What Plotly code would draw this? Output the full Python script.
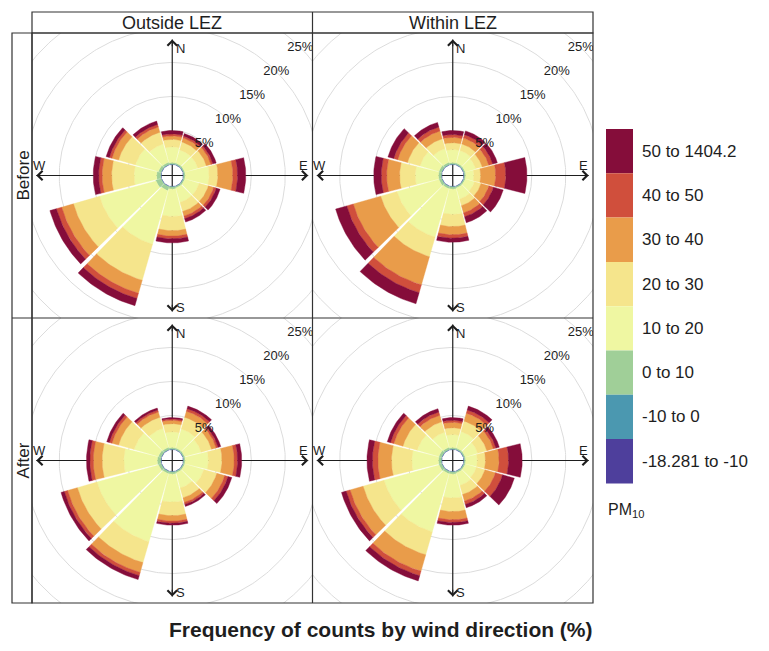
import numpy as np
import plotly.graph_objects as go

# ---------------- data ----------------
directions = [0, 30, 60, 90, 120, 150, 180, 210, 240, 270, 300, 330]
band_labels = ["-18.281 to -10", "-10 to 0", "0 to 10", "10 to 20",
               "20 to 30", "30 to 40", "40 to 50", "50 to 1404.2"]
band_colors = ["#4e3f9c", "#4b98b0", "#a0cf98", "#eff7a2",
               "#f5e58c", "#e99c4a", "#d04f3c", "#850d3a"]
col_titles = ["Outside LEZ", "Within LEZ"]
row_titles = ["Before", "After"]
grid_pct = [5, 10, 15, 20, 25]
legend_title = "PM<sub>10</sub>"
x_title = "Frequency of counts by wind direction (%)"

# frequency (%) per band (rows, low -> high) and direction (columns)
outside_before = [
    [0.02] * 12,
    [0.08] * 12,
    [0.2, 0.2, 0.2, 0.2, 0.2, 0.2, 0.3, 0.6, 0.8, 0.6, 0.4, 0.3],
    [2.3, 2.0, 2.0, 3.5, 2.2, 2.2, 4.0, 8.2, 8.6, 3.3, 3.5, 2.8],
    [1.1, 1.2, 1.3, 1.3, 1.4, 1.4, 2.1, 5.5, 4.0, 3.3, 2.6, 1.8],
    [0.5, 0.6, 0.7, 2.2, 0.8, 0.7, 0.8, 2.0, 1.8, 1.4, 1.0, 0.8],
    [0.3, 0.3, 0.3, 0.7, 0.4, 0.4, 0.4, 0.8, 0.8, 0.5, 0.4, 0.4],
    [0.5, 0.4, 0.5, 1.2, 0.6, 0.5, 0.6, 1.1, 1.0, 0.8, 0.5, 0.5],
]
within_before = [
    [0.02] * 12,
    [0.08] * 12,
    [0.2, 0.2, 0.2, 0.2, 0.2, 0.2, 0.3, 0.3, 0.4, 0.4, 0.4, 0.3],
    [1.9, 1.9, 1.6, 1.2, 1.4, 1.7, 3.7, 7.4, 6.4, 3.4, 2.9, 2.1],
    [1.0, 1.0, 1.0, 1.0, 1.0, 1.0, 1.8, 3.0, 2.5, 2.3, 1.9, 1.5],
    [0.8, 0.9, 1.0, 2.2, 1.2, 1.1, 1.2, 4.3, 4.2, 1.9, 1.5, 1.2],
    [0.4, 0.5, 0.6, 1.5, 0.7, 0.6, 0.5, 1.2, 1.0, 0.8, 0.6, 0.6],
    [0.6, 0.6, 0.7, 3.1, 1.5, 0.9, 0.6, 1.7, 1.7, 1.1, 0.9, 0.7],
]
outside_after = [
    [0.02] * 12,
    [0.08] * 12,
    [0.2, 0.2, 0.2, 0.2, 0.2, 0.2, 0.3, 0.3, 0.4, 0.5, 0.4, 0.3],
    [2.3, 2.9, 2.5, 3.4, 2.9, 2.3, 4.1, 10.4, 9.4, 4.9, 3.7, 2.9],
    [1.2, 1.8, 1.6, 2.0, 2.0, 1.5, 2.0, 3.2, 3.0, 3.2, 2.4, 1.7],
    [0.5, 0.9, 0.7, 1.8, 1.2, 0.7, 0.8, 1.5, 1.5, 1.3, 1.0, 0.8],
    [0.2, 0.4, 0.3, 0.5, 0.5, 0.3, 0.3, 0.5, 0.5, 0.5, 0.4, 0.3],
    [0.2, 0.4, 0.4, 0.6, 0.6, 0.3, 0.3, 0.6, 0.5, 0.5, 0.4, 0.3],
]
within_after = [
    [0.02] * 12,
    [0.08] * 12,
    [0.2, 0.2, 0.2, 0.2, 0.2, 0.2, 0.3, 0.3, 0.4, 0.4, 0.4, 0.3],
    [1.9, 2.5, 1.9, 1.7, 1.7, 1.9, 3.5, 8.9, 8.4, 3.9, 3.3, 2.3],
    [1.0, 1.6, 1.4, 1.2, 1.3, 1.4, 2.0, 3.5, 3.2, 3.0, 2.2, 1.6],
    [0.8, 1.2, 1.0, 2.0, 1.6, 1.0, 1.2, 2.5, 2.0, 2.0, 1.4, 1.0],
    [0.3, 0.5, 0.4, 1.4, 1.1, 0.5, 0.4, 0.7, 0.6, 0.8, 0.5, 0.5],
    [0.4, 0.6, 0.5, 2.0, 1.8, 0.5, 0.4, 0.8, 0.7, 0.8, 0.5, 0.5],
]

# ---------------- layout constants ----------------
PAGE_PAD = 8                     # browser default body margin
W, H = 769 - 2 * PAGE_PAD, 651 - 2 * PAGE_PAD
OFFSET = 1.62      # centre hole (in % units)
HALF_W = 14.0      # half wedge width (deg)
R_TIP = 20.0       # axis arrow length
PXU = 6.8          # pixels per % unit

LEFT, MIDX, RIGHT = 32, 312.5, 593
TOP, MIDY, BOTTOM = 33, 318, 603


def px(x):
    return (x - PAGE_PAD) / W


def py(y):
    return 1 - (y - PAGE_PAD) / H


FONT = "Liberation Sans, Arial, sans-serif"
INK = "#1e1e1e"

fig = go.Figure()

panels = [
    ("x", "y", outside_before, (LEFT, MIDX), (TOP, MIDY)),
    ("x2", "y2", within_before, (MIDX, RIGHT), (TOP, MIDY)),
    ("x3", "y3", outside_after, (LEFT, MIDX), (MIDY, BOTTOM)),
    ("x4", "y4", within_after, (MIDX, RIGHT), (MIDY, BOTTOM)),
]

annotations = []
shapes = []
theta = np.linspace(0, 2 * np.pi, 361)


def ptext(x, y, text, size, **kw):
    d = dict(x=px(x), y=py(y), xref="paper", yref="paper", text=text,
             showarrow=False, xanchor="center", yanchor="middle",
             font=dict(size=size, color=INK, family=FONT))
    d.update(kw)
    annotations.append(d)


for i, (xa, ya, data, (x0, x1), (y0, y1)) in enumerate(panels):
    sfx = "" if i == 0 else str(i + 1)
    xr = (x1 - x0) / 2 / PXU
    yr = (y1 - y0) / 2 / PXU
    fig.layout["xaxis" + sfx] = dict(domain=[px(x0), px(x1)], range=[-xr, xr],
                                     visible=False, fixedrange=True,
                                     anchor="y" + sfx)
    fig.layout["yaxis" + sfx] = dict(domain=[py(y1), py(y0)], range=[-yr, yr],
                                     visible=False, fixedrange=True,
                                     anchor="x" + sfx)

    # grid circles
    gx, gy = [], []
    for v in grid_pct:
        r = OFFSET + v
        gx += list(r * np.sin(theta)) + [None]
        gy += list(r * np.cos(theta)) + [None]
    fig.add_trace(go.Scatter(x=gx, y=gy, mode="lines", xaxis=xa, yaxis=ya,
                             line=dict(color="#dcdcdc", width=1),
                             hoverinfo="skip", showlegend=False))
    # axis cross
    fig.add_trace(go.Scatter(x=[-R_TIP, R_TIP, None, 0, 0],
                             y=[0, 0, None, -R_TIP, R_TIP],
                             mode="lines", xaxis=xa, yaxis=ya,
                             line=dict(color=INK, width=1.2),
                             hoverinfo="skip", showlegend=False))

    # stacked wedges
    cum = np.zeros(len(directions))
    for b, vals in enumerate(data):
        xs, ys = [], []
        for k, d in enumerate(directions):
            r0 = OFFSET + cum[k]
            r1 = r0 + vals[k]
            a = np.radians(np.linspace(d - HALF_W, d + HALF_W, 25))
            ox = list(r1 * np.sin(a))
            oy = list(r1 * np.cos(a))
            ix = list(r0 * np.sin(a[::-1]))
            iy = list(r0 * np.cos(a[::-1]))
            xs += ox + ix + [ox[0], None]
            ys += oy + iy + [oy[0], None]
        cum += np.array(vals)
        fig.add_trace(go.Scatter(x=xs, y=ys, mode="lines", fill="toself",
                                 fillcolor=band_colors[b],
                                 line=dict(color=band_colors[b], width=0.4),
                                 xaxis=xa, yaxis=ya, hoverinfo="skip",
                                 showlegend=False))

    # percent labels along NE diagonal
    s45 = np.sin(np.radians(45))
    fig.add_trace(go.Scatter(
        x=[(OFFSET + v) * s45 for v in grid_pct],
        y=[(OFFSET + v) * s45 for v in grid_pct],
        text=[f"{v}%" for v in grid_pct], mode="text", cliponaxis=True,
        textfont=dict(size=13, color=INK, family=FONT),
        xaxis=xa, yaxis=ya, hoverinfo="skip", showlegend=False))

    # arrowheads
    for sx, sy in [(0, 1), (1, 0), (0, -1), (-1, 0)]:
        annotations.append(dict(
            x=sx * R_TIP, y=sy * R_TIP, ax=sx * (R_TIP - 1.2),
            ay=sy * (R_TIP - 1.2), xref=xa, yref=ya, axref=xa, ayref=ya,
            text="", showarrow=True, arrowhead=4, arrowsize=1.7,
            arrowwidth=1.1, arrowcolor=INK))
    # compass letters
    for lab, sx, sy, xs_, ys_ in [("N", 0, 1, 8, -9), ("E", 1, 0, -5, 10),
                                  ("S", 0, -1, 8, 4), ("W", -1, 0, 3, 10)]:
        annotations.append(dict(
            x=sx * R_TIP, y=sy * R_TIP, xref=xa, yref=ya, text=lab,
            showarrow=False, xshift=xs_, yshift=ys_,
            xanchor="center", yanchor="middle",
            font=dict(size=13, color=INK, family=FONT)))

# ---------------- frames and strips ----------------
line = dict(color="#333333", width=1.2)
shapes.append(dict(type="rect", xref="paper", yref="paper", x0=px(LEFT),
                   x1=px(RIGHT), y0=py(BOTTOM), y1=py(TOP), line=line))
shapes.append(dict(type="line", xref="paper", yref="paper", x0=px(MIDX),
                   x1=px(MIDX), y0=py(BOTTOM), y1=py(12), line=line))
shapes.append(dict(type="line", xref="paper", yref="paper", x0=px(12),
                   x1=px(RIGHT), y0=py(MIDY), y1=py(MIDY), line=line))
# top strip
shapes.append(dict(type="rect", xref="paper", yref="paper", x0=px(LEFT),
                   x1=px(RIGHT), y0=py(TOP), y1=py(12), line=line))
# left strip
shapes.append(dict(type="rect", xref="paper", yref="paper", x0=px(12),
                   x1=px(LEFT), y0=py(BOTTOM), y1=py(TOP), line=line))

for j, t in enumerate(col_titles):
    cx = (LEFT + MIDX) / 2 if j == 0 else (MIDX + RIGHT) / 2
    ptext(cx, 23, t, 18)
for j, t in enumerate(row_titles):
    cy = (TOP + MIDY) / 2 if j == 0 else (MIDY + BOTTOM) / 2
    ptext(23, cy, t, 17, textangle=-90)

# ---------------- colour key ----------------
KEY_TOP, KEY_H = 129, 44.3
for k, (lab, colr) in enumerate(zip(band_labels[::-1], band_colors[::-1])):
    ytop = KEY_TOP + k * KEY_H
    shapes.append(dict(type="rect", xref="paper", yref="paper", x0=px(606),
                       x1=px(633), y0=py(ytop + KEY_H), y1=py(ytop),
                       fillcolor=colr, line=dict(width=0)))
    ptext(640, ytop + KEY_H / 2, lab, 17, xanchor="left")
ptext(606, 510, legend_title, 16, xanchor="left")

ptext(381, 629, f"<b>{x_title}</b>", 21)

fig.update_layout(width=W, height=H, autosize=False,
                  margin=dict(l=0, r=0, t=0, b=0),
                  paper_bgcolor="white", plot_bgcolor="white",
                  shapes=shapes, annotations=annotations,
                  font=dict(family=FONT, color=INK), showlegend=False)

fig.write_html("out.html")
